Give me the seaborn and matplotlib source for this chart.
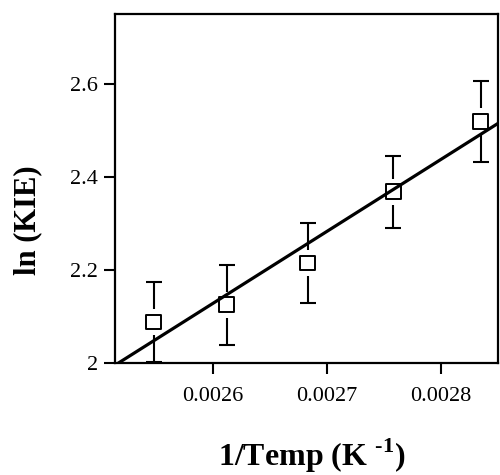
import numpy as np
import pandas as pd
import matplotlib
matplotlib.use("Agg")
import matplotlib.pyplot as plt
import seaborn as sns
from matplotlib.ticker import FuncFormatter

# Data
inv_temp = [0.002548, 0.002612, 0.002683, 0.002758, 0.002835]
ln_kie = [2.088, 2.125, 2.215, 2.368, 2.520]
ln_kie_err = [0.086, 0.086, 0.086, 0.078, 0.087]

x_ticks = [0.0026, 0.0027, 0.0028]
y_ticks = [2.0, 2.2, 2.4, 2.6]

sns.set_style("ticks")
plt.rcParams['font.family'] = ['Liberation Serif', 'DejaVu Serif']
plt.rcParams['mathtext.fontset'] = 'custom'
plt.rcParams['mathtext.rm'] = 'Liberation Serif'
plt.rcParams['mathtext.bf'] = 'Liberation Serif:bold'

df = pd.DataFrame({'x': inv_temp, 'y': ln_kie, 'err': ln_kie_err})

fig = plt.figure(figsize=(5, 4.75), dpi=100)
ax = fig.add_axes([0.23, 0.236, 0.766, 0.734])
ax.set_xlim(0.002514, 0.00285)
ax.set_ylim(2.0, 2.75)

# error bars, then a white patch so the bars stop short of the markers
ax.errorbar(df['x'], df['y'], yerr=df['err'], fmt='none', ecolor='black',
            elinewidth=1.5, capsize=6, capthick=1.5, zorder=2)
sns.scatterplot(data=df, x='x', y='y', marker='s', s=330, color='white',
                linewidth=0, zorder=2.5, ax=ax)

# least-squares fit line across the full x range
sns.regplot(data=df, x='x', y='y', scatter=False, ci=None, truncate=False,
            color='black', line_kws={'linewidth': 2.3, 'zorder': 3}, ax=ax)

sns.scatterplot(data=df, x='x', y='y', marker='s', s=115, facecolor='none',
                edgecolor='black', linewidth=1.4, zorder=4, ax=ax)

ax.set_xlim(0.002514, 0.00285)
ax.set_ylim(2.0, 2.75)
ax.set_xticks(x_ticks)
ax.set_yticks(y_ticks)
ax.xaxis.set_major_formatter(FuncFormatter(lambda v, p: f'{v:.4f}'))
ax.yaxis.set_major_formatter(FuncFormatter(lambda v, p: f'{v:g}'))
ax.tick_params(axis='both', direction='out', length=8, width=1.5,
               labelsize=16, colors='black')
ax.tick_params(axis='x', pad=9)
ax.tick_params(axis='y', pad=4)

for s in ax.spines.values():
    s.set_linewidth(1.6)
    s.set_color('black')

ax.set_xlabel('1/Temp (K $^{\\mathbf{\u2010}\\mathbf{1}}$)', fontsize=23,
              fontweight='bold', color='black', va='center')
ax.set_ylabel('ln (KIE)', fontsize=22, fontweight='bold', color='black',
              va='center')
ax.xaxis.set_label_coords(0.513, -0.268)
ax.yaxis.set_label_coords(-0.229, 0.41)

fig.savefig('out.png', dpi=100)
